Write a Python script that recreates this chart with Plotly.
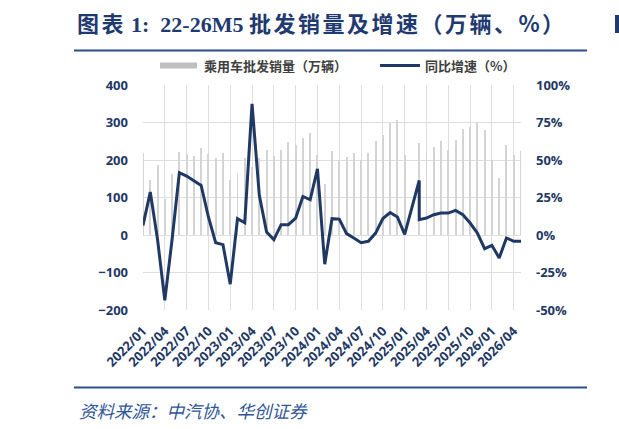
import plotly.graph_objects as go

# ---- data ----
months = [f"{y}/{m:02d}" for y in range(2022, 2027) for m in range(1, 13)][:53]
# plotted positions of the source points (the Feb-2025 point sits on the Mar-2025 date in the source chart)
plot_months = list(months)
plot_months[37] = "2025/03"

sales = [
    218, 148, 186, 96.5, 162, 221, 217, 212, 232, 216, 205, 219,
    147.6, 165, 205, 181, 205, 227, 210, 226, 248, 241, 259, 272,
    213, 135, 223, 200, 208, 220, 199, 218, 251, 268, 298, 308,
    214, 181, 246, 223, 234, 252, 228, 253, 283, 289, 302, 280,
    199, 152, 241, 214, 223,
]
yoy = [
    6.4, 28.6, -3.0, -43.5, -3.0, 41.5, 39.3, 36.4, 33.0, 12.0, -5.1, -6.4,
    -32.8, 10.9, 8.2, 87.4, 26.4, 2.0, -3.1, 6.9, 6.9, 11.3, 25.7, 23.5,
    44.1, -19.5, 10.9, 10.6, 0.9, -2.0, -5.1, -4.2, 1.3, 11.0, 15.0, 12.0,
    0.4, 36.4, 10.2, 11.3, 13.5, 14.6, 14.6, 16.4, 13.5, 8.0, 1.3, -9.1,
    -6.9, -15.3, -2.0, -4.2, -4.2,
]
tick_labels = months[::3]
left_ticks = [-200, -100, 0, 100, 200, 300, 400]
right_ticks = [-50, -25, 0, 25, 50, 75, 100]
right_labels = [f"{v}%" for v in right_ticks]

NAVY = "#1F3864"
W, H = 619, 429
L, R, T, B = 143, 98, 85, 119
PW, PH = W - L - R, H - T - B


def px(X):
    return (X - L) / PW


def py(Y):
    return (H - B - Y) / PH


fig = go.Figure()
fig.add_trace(go.Bar(
    x=plot_months, y=sales, name="乘用车批发销量（万辆）",
    marker=dict(color="#d4d4d4", line=dict(width=0)), width=0.13,
    yaxis="y", showlegend=False,
))
fig.add_trace(go.Scatter(
    x=plot_months, y=yoy, name="同比增速（%）", mode="lines",
    line=dict(color=NAVY, width=3), yaxis="y2", showlegend=False,
))

tickfont = dict(family="Open Sans, Noto Sans CJK SC", size=13, color=NAVY, weight="bold")

fig.update_layout(
    width=W, height=H, margin=dict(l=L, r=R, t=T, b=B),
    paper_bgcolor="white", plot_bgcolor="white",
    bargap=0, barmode="overlay",
    xaxis=dict(
        type="category", categoryorder="array", categoryarray=months,
        range=[0, 52], tickmode="array", tickvals=tick_labels, ticktext=tick_labels,
        tickangle=-45, tickfont=tickfont, showgrid=True, gridcolor="#dedede",
        gridwidth=1.3, showline=False, zeroline=False, ticks="", ticklabelstandoff=10,
    ),
    yaxis=dict(
        range=[-200, 400], tickmode="array", tickvals=left_ticks, tickfont=tickfont,
        showgrid=True, gridcolor="#dedede", gridwidth=1.3, zeroline=False,
        showline=False, ticklabelstandoff=14,
    ),
    yaxis2=dict(
        range=[-50, 100], tickmode="array", tickvals=right_ticks, ticktext=right_labels,
        tickfont=tickfont, overlaying="y", side="right", showgrid=False, zeroline=False,
        showline=False, ticklabelstandoff=14,
    ),
)

shapes = [
    dict(type="line", xref="paper", yref="paper", x0=px(74), x1=px(587), y0=py(50.5), y1=py(50.5),
         line=dict(color="#2A4F8A", width=2)),
    dict(type="line", xref="paper", yref="paper", x0=px(74), x1=px(587), y0=py(387.5), y1=py(387.5),
         line=dict(color="#2A4F8A", width=2)),
    dict(type="rect", xref="paper", yref="paper", x0=px(160), x1=px(197), y0=py(68.5), y1=py(62.5),
         fillcolor="#bfbfbf", line=dict(width=0)),
    dict(type="line", xref="paper", yref="paper", x0=px(380), x1=px(420), y0=py(65.5), y1=py(65.5),
         line=dict(color=NAVY, width=3)),
    dict(type="rect", xref="paper", yref="paper", x0=px(615), x1=px(619), y0=py(33), y1=py(15),
         fillcolor="#1F3A70", line=dict(width=0)),
]
fig.update_layout(shapes=shapes)

SERIF = "<span style='font-family:Liberation Serif'>"
SPREAD = "<span style='letter-spacing:2.5px'>"
title_text = (f"{SPREAD}图表</span> {SERIF}1:&nbsp;&nbsp;22-26M5&nbsp;</span>"
              f"{SPREAD}批发销量及增速（万辆、%）</span>")
ann = [
    dict(text=title_text, x=px(75), y=py(22),
         font=dict(family="Noto Sans CJK SC", size=22, color="#1F3A70", weight="bold")),
    dict(text="乘用车批发销量（万辆）", x=px(202), y=py(65.5),
         font=dict(family="Noto Sans CJK SC", size=13, color="#404040", weight="bold")),
    dict(text="同比增速（%）", x=px(423), y=py(65.5),
         font=dict(family="Noto Sans CJK SC", size=13, color="#404040", weight="bold")),
    dict(text="<i>资料来源：中汽协、华创证券</i>", x=px(77), y=py(410),
         font=dict(family="Noto Sans CJK SC", size=17.5, color="#2F5597")),
]
for a in ann:
    a.update(xref="paper", yref="paper", xanchor="left", yanchor="middle", showarrow=False)
fig.update_layout(annotations=ann)

fig.write_html("out.html")
